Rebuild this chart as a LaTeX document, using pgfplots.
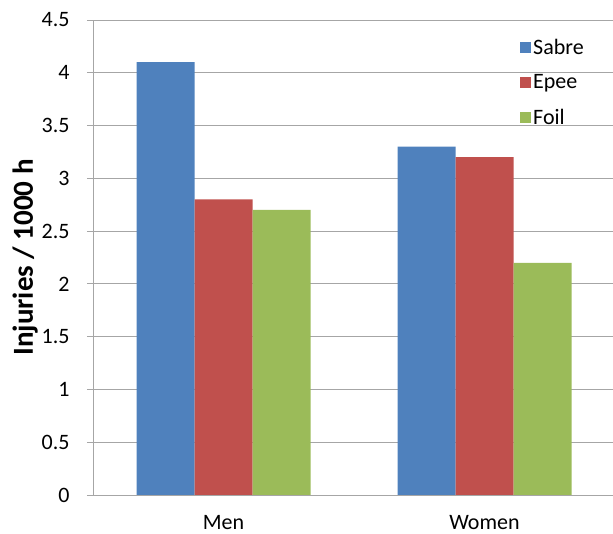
\documentclass[border=0pt]{standalone}
\usepackage{pgfplots}
\pgfplotsset{compat=1.18}
\usepackage{fontspec}
\setmainfont{Carlito}
\definecolor{cblue}{HTML}{4F81BD}
\definecolor{cred}{HTML}{C0504D}
\definecolor{cgreen}{HTML}{9BBB59}
\definecolor{gridgray}{HTML}{A6A6A6}
\begin{document}
\begin{tikzpicture}
\begin{axis}[
  at={(93pt,39pt)}, anchor=south west,
  scale only axis, width=522pt, height=475pt,
  ymin=0, ymax=4.5, ytick={0,0.5,1,1.5,2,2.5,3,3.5,4,4.5},
  yticklabels={0,0.5,1,1.5,2,2.5,3,3.5,4,4.5},
  xmin=-0.5, xmax=1.5,
  xtick={0,1}, xticklabels={Men,Women},
  major x tick style={draw=none},
  ybar=0pt, bar width=58pt,
  ymajorgrids, grid style={gridgray, line width=0.8pt},
  axis x line*=bottom, axis y line*=left,
  axis line style={gridgray, line width=0.8pt},
  y axis line style={-}, x axis line style={-},
  ytick style={gridgray, line width=0.8pt},
  tick align=outside, major tick length=6pt,
  tick label style={font=\fontsize{22}{26}\selectfont},
  y tick label style={font=\fontsize{22}{26}\selectfont, anchor=east, xshift=-14pt},
  x tick label style={yshift=-11pt},
  ylabel={\textbf{Injuries / 1000 h}},
  ylabel style={font=\fontsize{29}{34}\selectfont, at={(axis description cs:-0.13,0.5)}, anchor=center},
  legend style={draw=none, fill=none, at={(0.818,0.965)}, anchor=north west,
    font=\fontsize{22}{26}\selectfont, row sep=15pt, legend cell align=left,
    inner sep=0pt, nodes={inner sep=2pt}},
  legend image code/.code={\fill[#1] (0pt,-5.5pt) rectangle (11pt,5.5pt);},
]
\addplot[fill=cblue, draw=none] coordinates {(0,4.1) (1,3.3)};
\addplot[fill=cred, draw=none] coordinates {(0,2.8) (1,3.2)};
\addplot[fill=cgreen, draw=none] coordinates {(0,2.7) (1,2.2)};
\legend{Sabre,Epee,Foil}
\end{axis}
\pgfresetboundingbox
\path (0,0) rectangle (613pt,534pt);
\end{tikzpicture}
\end{document}
